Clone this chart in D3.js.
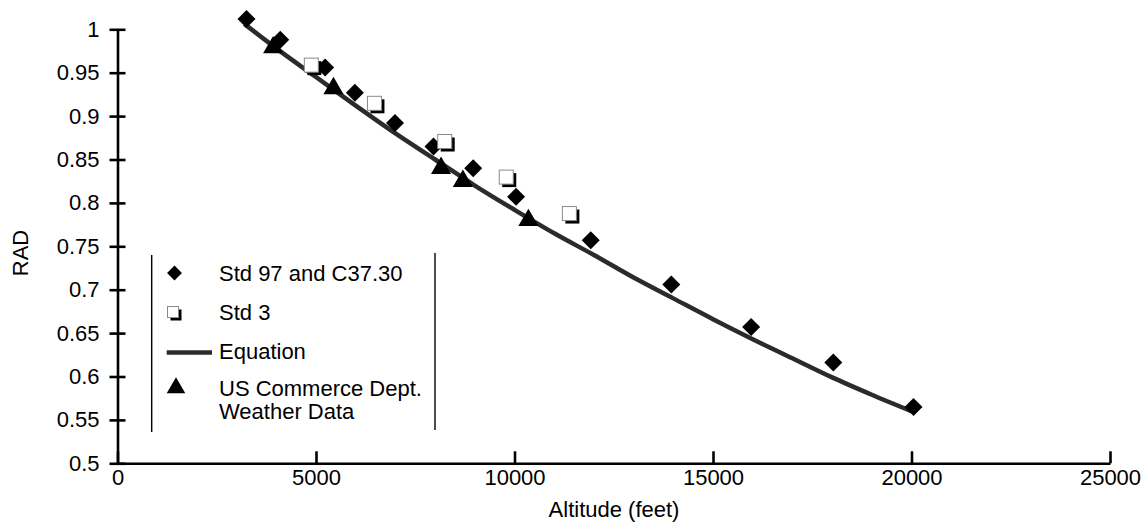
<!DOCTYPE html>
<html>
<head>
<meta charset="utf-8">
<script src="https://cdn.jsdelivr.net/npm/d3@7"></script>
<style>
  body { margin: 0; background: #fff; }
  svg text { font-family: "Liberation Sans", Arial, Helvetica, sans-serif; font-size: 22px; fill: #000; }
</style>
</head>
<body>
<div class="chartContainer"></div>
<script>
// values
var std97 = [[3250, 1.012], [4100, 0.988], [5230, 0.956], [5980, 0.927], [6990, 0.892],
             [7960, 0.865], [8960, 0.840], [10040, 0.807], [11920, 0.757], [13950, 0.706],
             [15960, 0.657], [18030, 0.616], [20050, 0.565]];
var std3 = [[4920, 0.957], [6510, 0.913], [8280, 0.869], [9830, 0.828], [11420, 0.786]];
var commerce = [[3920, 0.979], [5440, 0.932], [8150, 0.840], [8700, 0.825], [10350, 0.780]];
var equation = [[3200, 1.006], [4000, 0.978], [5000, 0.945], [6000, 0.912], [7000, 0.880],
                [8000, 0.850], [9000, 0.820], [10000, 0.792], [11000, 0.765], [12000, 0.740],
                [13000, 0.714], [14000, 0.690], [15000, 0.666], [16000, 0.643], [17000, 0.621],
                [18000, 0.599], [19000, 0.579], [20000, 0.560]];

var xTicks = [0, 5000, 10000, 15000, 20000, 25000];
var yTicks = [0.5, 0.55, 0.6, 0.65, 0.7, 0.75, 0.8, 0.85, 0.9, 0.95, 1];
var yTickLabels = ["0.5", "0.55", "0.6", "0.65", "0.7", "0.75", "0.8", "0.85", "0.9", "0.95", "1"];

var legendItems = [
  {kind: "diamond", lines: ["Std 97 and C37.30"]},
  {kind: "square", lines: ["Std 3"]},
  {kind: "line", lines: ["Equation"]},
  {kind: "triangle", lines: ["US Commerce Dept.", "Weather Data"]}
];

var WIDTH = 1148, HEIGHT = 522;
var X0 = 117.5, X1 = 1110, Y0 = 463.3, Y1 = 29.3;
var LINE_COLOR = "#2b2b2b";

var svg = d3.select(".chartContainer").append("svg")
    .attr("width", WIDTH)
    .attr("height", HEIGHT);

var x = d3.scaleLinear().domain([0, 25000]).range([X0, X1]);
var y = d3.scaleLinear().domain([0.5, 1]).range([Y0, Y1]);

// x axis, ticks pointing up into the plot
var xAxis = svg.append("g")
    .attr("transform", "translate(0," + Y0 + ")")
    .call(d3.axisBottom(x).tickValues(xTicks).tickSizeInner(-12).tickSizeOuter(0).tickPadding(6)
      .tickFormat(function(d){ return String(d); }));

// y axis, ticks crossing the line
var yAxis = svg.append("g")
    .attr("transform", "translate(" + X0 + ",0)")
    .call(d3.axisLeft(y).tickValues(yTicks).tickSizeInner(8).tickSizeOuter(0).tickPadding(10)
      .tickFormat(function(d, i){ return yTickLabels[i]; }));

yAxis.selectAll(".tick line").attr("x1", 8);

svg.selectAll(".domain, .tick line")
    .attr("stroke", "#000")
    .attr("stroke-width", 2.6);
svg.selectAll(".tick text")
    .attr("font-size", null)
    .attr("font-family", null);
xAxis.attr("font-size", null).attr("font-family", null);
yAxis.attr("font-size", null).attr("font-family", null);

// axis titles
svg.append("text")
    .attr("x", 614)
    .attr("y", 517)
    .attr("text-anchor", "middle")
    .text("Altitude (feet)");

svg.append("text")
    .attr("transform", "translate(28,253) rotate(-90)")
    .attr("text-anchor", "middle")
    .text("RAD");

// equation curve
var line = d3.line()
    .x(function(d){ return x(d[0]); })
    .y(function(d){ return y(d[1]); })
    .curve(d3.curveMonotoneX);

svg.append("path")
    .datum(equation)
    .attr("fill", "none")
    .attr("stroke", LINE_COLOR)
    .attr("stroke-width", 4.5)
    .attr("d", line);

// markers
function drawDiamond(g, cx, cy, size) {
  g.append("path")
    .attr("d", d3.symbol().type(d3.symbolSquare).size(size)())
    .attr("transform", "translate(" + cx + "," + cy + ") rotate(45)")
    .attr("fill", "#000");
}

function drawSquare(g, cx, cy, s) {
  g.append("rect")
    .attr("x", cx - s/2 + 3).attr("y", cy - s/2 + 3)
    .attr("width", s).attr("height", s)
    .attr("fill", "#000");
  g.append("rect")
    .attr("x", cx - s/2).attr("y", cy - s/2)
    .attr("width", s).attr("height", s)
    .attr("fill", "#fff")
    .attr("stroke", "#8a8a8a")
    .attr("stroke-width", 1);
}

function drawTriangle(g, cx, cy, size) {
  g.append("path")
    .attr("d", d3.symbol().type(d3.symbolTriangle).size(size)())
    .attr("transform", "translate(" + cx + "," + cy + ")")
    .attr("fill", "#000");
}

var marks = svg.append("g");
std97.forEach(function(d){ drawDiamond(marks, x(d[0]), y(d[1]), 162); });
std3.forEach(function(d){ drawSquare(marks, x(d[0]) - 1.5, y(d[1]) - 1.5, 14); });
commerce.forEach(function(d){ drawTriangle(marks, x(d[0]), y(d[1]), 175); });

// legend: two vertical rules and stacked items
var legend = svg.append("g");
legend.append("line")
    .attr("x1", 151.7).attr("x2", 151.7).attr("y1", 255).attr("y2", 432)
    .attr("stroke", "#000").attr("stroke-width", 1.4);
legend.append("line")
    .attr("x1", 435).attr("x2", 435).attr("y1", 253).attr("y2", 430)
    .attr("stroke", "#000").attr("stroke-width", 1.4);

var LEGEND_ROW_Y = [273, 312, 351, 388];
legendItems.forEach(function(item, i){
  var cy = LEGEND_ROW_Y[i];
  if (item.kind == "diamond") drawDiamond(legend, 174.5, cy, 110);
  if (item.kind == "square") drawSquare(legend, 173, cy, 11);
  if (item.kind == "line") {
    legend.append("line")
      .attr("x1", 166.7).attr("x2", 212).attr("y1", cy + 1.5).attr("y2", cy + 1.5)
      .attr("stroke", LINE_COLOR).attr("stroke-width", 4.5);
  }
  if (item.kind == "triangle") drawTriangle(legend, 176, cy, 150);

  // one text per line so wrapped labels keep their own boxes
  item.lines.forEach(function(s, j){
    legend.append("text")
      .attr("x", 219)
      .attr("y", cy + 8 + j * 23)
      .text(s);
  });
});
</script>
</body>
</html>
